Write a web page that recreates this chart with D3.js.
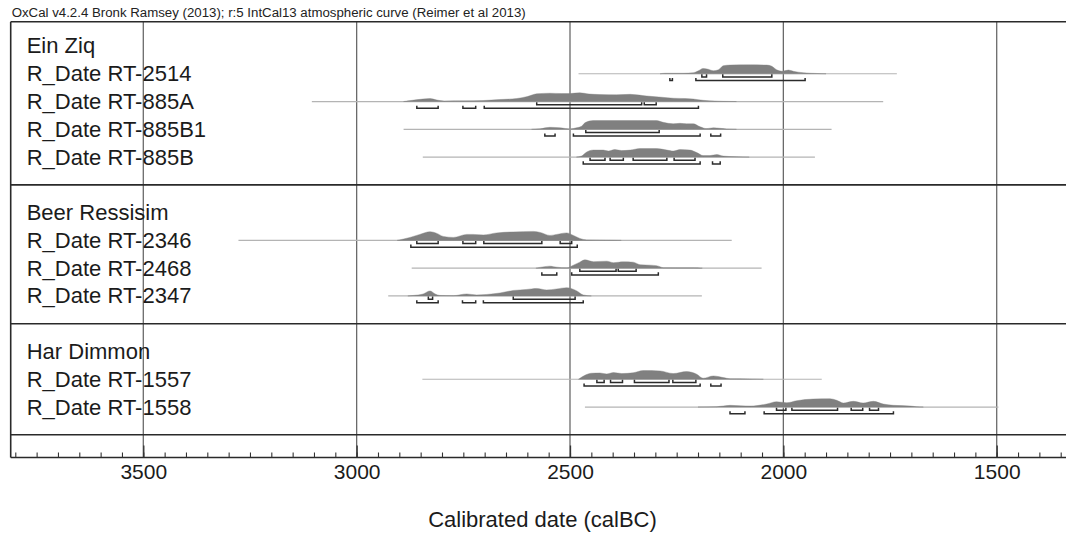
<!DOCTYPE html>
<html>
<head>
<meta charset="utf-8">
<script src="https://cdn.jsdelivr.net/npm/d3@7/dist/d3.min.js"></script>
<style>
  html, body { margin: 0; padding: 0; background: #fff; }
  svg { display: block; font-family: "Liberation Sans", Arial, Helvetica, sans-serif; }
</style>
</head>
<body>
<svg id="chart" width="1066" height="533"></svg>
<script>
// ---------------- DATA ----------------
const headerText = "OxCal v4.2.4 Bronk Ramsey (2013); r:5 IntCal13 atmospheric curve (Reimer et al 2013)";
const axisTitle = "Calibrated date (calBC)";
const majorTicks = [3500, 3000, 2500, 2000, 1500];
const minorStep = 50;

// group headers and row labels
const groupNames = ["Ein Ziq", "Beer Ressisim", "Har Dimmon"];
const dateNames = [
  ["RT-2514", "RT-885A", "RT-885B1", "RT-885B"],
  ["RT-2346", "RT-2468", "RT-2347"],
  ["RT-1557", "RT-1558"]
];

// extent of each calibrated distribution (thin line), calBC
const rt2514_extent = [2480, 1734];
const rt885A_extent = [3105, 1766];
const rt885B1_extent = [2890, 1887];
const rt885B_extent = [2845, 1926];
const rt2346_extent = [3277, 2121];
const rt2468_extent = [2871, 2051];
const rt2347_extent = [2926, 2191];
const rt1557_extent = [2846, 1910];
const rt1558_extent = [2465, 1496];

// relative probability [year calBC, prob]
const rt2514_prob = [[2289,0],[2277,0.5],[2234,0.5],[2211,1],[2199,3],[2188,5.3],[2176,4.5],[2164,3],[2152,4],[2141,8],[2125,8.7],[2078,8.9],[2039,8.7],[2027,7.5],[2016,4],[2003,2.5],[1988,3.7],[1977,2.5],[1953,1],[1922,0.3],[1900,0]];
const rt885A_prob = [[2890,0],[2870,1.2],[2845,2.5],[2828,3],[2812,1.5],[2795,0.6],[2750,0.7],[2704,1],[2665,2],[2625,3],[2600,5],[2578,7.7],[2547,8.3],[2520,8],[2500,8],[2477,8.7],[2455,7.5],[2430,7],[2391,6.7],[2359,7.2],[2330,6],[2312,5.2],[2285,4.3],[2258,3.3],[2230,3],[2211,2.5],[2188,1.2],[2160,0.5],[2141,0.2],[2110,0]];
const rt885B1_prob = [[2590,0],[2570,0.5],[2547,2],[2523,1.5],[2500,0.4],[2485,1.5],[2473,3],[2465,6.5],[2446,8.7],[2430,8.8],[2350,8.8],[2297,8.7],[2282,7],[2258,5.5],[2242,6],[2227,5.5],[2211,5.5],[2195,2.5],[2180,0.7],[2164,1.5],[2148,1],[2133,0.3],[2110,0]];
const rt885B_prob = [[2485,0],[2473,1],[2461,5],[2445,7],[2422,7],[2410,6],[2395,7.5],[2379,6.5],[2359,7],[2336,8.5],[2297,8.5],[2273,7],[2258,6],[2242,7.5],[2219,7],[2203,4.5],[2188,1.5],[2172,1.5],[2156,2.5],[2141,1],[2109,0.3],[2080,0]];
const rt2346_prob = [[2905,0],[2875,3],[2852,6],[2828,8.7],[2812,7],[2797,4],[2773,3],[2742,6],[2727,6],[2703,5.5],[2672,7.5],[2633,8.5],[2586,9],[2570,8],[2547,5],[2531,6],[2508,7.5],[2492,5],[2477,2],[2461,0.5],[2420,0.2],[2380,0]];
const rt2468_prob = [[2580,0],[2560,1.5],[2547,2],[2531,1],[2508,0.3],[2492,3],[2477,6],[2465,8.3],[2445,6.5],[2414,7],[2398,5.5],[2375,6.3],[2352,6],[2336,3.5],[2312,3],[2297,2.5],[2281,0.5],[2250,0.3],[2211,0.3],[2190,0]];
const rt2347_prob = [[2880,0],[2867,0.5],[2844,2],[2828,5],[2816,2],[2805,0.5],[2773,0.3],[2742,2],[2719,1],[2695,1.5],[2664,3],[2633,5.5],[2617,6],[2602,6.5],[2578,7.5],[2555,6],[2531,7],[2508,8.3],[2484,5],[2469,1],[2450,0]];
const rt1557_prob = [[2480,0],[2465,4],[2450,6],[2430,6.3],[2414,5.3],[2398,6.7],[2379,5.7],[2352,6.5],[2328,8.7],[2289,8.3],[2258,5.7],[2227,7.7],[2203,5],[2188,1],[2164,3.3],[2141,1.7],[2125,0.5],[2078,0.3],[2047,0]];
const rt1558_prob = [[2200,0],[2156,0.3],[2125,1.7],[2100,1.2],[2078,1],[2039,3],[2016,5.3],[1992,4.3],[1969,6.3],[1930,8],[1891,8.3],[1875,6.7],[1859,4],[1836,5.7],[1813,4],[1789,5.7],[1766,3],[1742,1.7],[1703,1],[1688,0.3],[1672,0]];

// 68.2% ranges
const rt2514_r68 = [[2191,2180],[2142,2027]];
const rt885A_r68 = [[2578,2332],[2326,2298]];
const rt885B1_r68 = [[2463,2291]];
const rt885B_r68 = [[2453,2418],[2406,2375],[2352,2273],[2256,2207]];
const rt2346_r68 = [[2859,2809],[2751,2721],[2702,2566],[2523,2496]];
const rt2468_r68 = [[2477,2392],[2387,2345]];
const rt2347_r68 = [[2832,2822],[2633,2488]];
const rt1557_r68 = [[2437,2420],[2405,2377],[2349,2268],[2259,2205]];
const rt1558_r68 = [[2016,1994],[1980,1873],[1841,1814],[1798,1777]];

// 95.4% ranges
const rt2514_r95 = [[2266,2260],[2205,1949]];
const rt885A_r95 = [[2859,2809],[2751,2721],[2701,2199]];
const rt885B1_r95 = [[2559,2535],[2492,2195],[2170,2147]];
const rt885B_r95 = [[2469,2195],[2166,2148]];
const rt2346_r95 = [[2873,2483]];
const rt2468_r95 = [[2566,2531],[2496,2293]];
const rt2347_r95 = [[2859,2809],[2752,2721],[2703,2469]];
const rt1557_r95 = [[2467,2195],[2170,2146]];
const rt1558_r95 = [[2125,2090],[2045,1742]];

// ---------------- TABLE ----------------
const dateTable = {
  "RT-2514": {extent: rt2514_extent, prob: rt2514_prob, r68: rt2514_r68, r95: rt2514_r95},
  "RT-885A": {extent: rt885A_extent, prob: rt885A_prob, r68: rt885A_r68, r95: rt885A_r95},
  "RT-885B1": {extent: rt885B1_extent, prob: rt885B1_prob, r68: rt885B1_r68, r95: rt885B1_r95},
  "RT-885B": {extent: rt885B_extent, prob: rt885B_prob, r68: rt885B_r68, r95: rt885B_r95},
  "RT-2346": {extent: rt2346_extent, prob: rt2346_prob, r68: rt2346_r68, r95: rt2346_r95},
  "RT-2468": {extent: rt2468_extent, prob: rt2468_prob, r68: rt2468_r68, r95: rt2468_r95},
  "RT-2347": {extent: rt2347_extent, prob: rt2347_prob, r68: rt2347_r68, r95: rt2347_r95},
  "RT-1557": {extent: rt1557_extent, prob: rt1557_prob, r68: rt1557_r68, r95: rt1557_r95},
  "RT-1558": {extent: rt1558_extent, prob: rt1558_prob, r68: rt1558_r68, r95: rt1558_r95}
};

// build slot list
const slots = [];
const separators = [];
groupNames.forEach((g, gi) => {
  slots.push({type: "header", label: g, idx: slots.length + separators.length});
  dateNames[gi].forEach(n => {
    slots.push({type: "date", label: "R_Date " + n, key: n, idx: slots.length + separators.length});
  });
  separators.push(slots.length + separators.length);
});

// ---------------- LAYOUT ----------------
const W = 1066, H = 533;
const frameLeft = 10.7, frameRight = W;
const x = d3.scaleLinear().domain([3500, 1500]).range([143.3, 996.7]);
const slotY = d3.scaleLinear().domain([0, 14]).range([46, 434.8]);
const frameTop = slotY(-0.875);
const axisY = 457.5;
const probH = d3.scaleLinear().domain([0, 9]).range([0, 9]);

const svg = d3.select("#chart");
const textColor = "#1b1b1b";
const labelFont = 22;
const tickFont = 21;

svg.append("defs").append("clipPath").attr("id", "plotclip")
  .append("rect").attr("x", frameLeft).attr("y", frameTop).attr("width", frameRight - frameLeft).attr("height", axisY - frameTop);

// header text
const hdr = svg.append("text")
  .attr("x", 11.7).attr("y", 17.3)
  .attr("fill", "#222")
  .style("font-size", "12.5px")
  .text(headerText);
const hw = hdr.node().getComputedTextLength();
hdr.style("font-size", (12.5 * 514 / hw).toFixed(2) + "px");

// gridlines
svg.append("g").selectAll("line").data(majorTicks).join("line")
  .attr("x1", d => x(d)).attr("x2", d => x(d))
  .attr("y1", frameTop).attr("y2", axisY)
  .attr("stroke", "#6a6a6a").attr("stroke-width", 1.3);

// frame lines
const hLines = [frameTop].concat(separators.map(s => slotY(s)));
svg.append("g").selectAll("line").data(hLines).join("line")
  .attr("x1", frameLeft).attr("x2", frameRight)
  .attr("y1", d => d).attr("y2", d => d)
  .attr("stroke", "#2a2a2a").attr("stroke-width", 1.6);
svg.append("line").attr("x1", frameLeft).attr("x2", frameLeft)
  .attr("y1", frameTop).attr("y2", axisY)
  .attr("stroke", "#2a2a2a").attr("stroke-width", 1.6);
svg.append("line").attr("x1", frameLeft).attr("x2", frameRight)
  .attr("y1", axisY).attr("y2", axisY)
  .attr("stroke", "#2a2a2a").attr("stroke-width", 1.6);

// axis ticks
const minorTicks = d3.range(3800, 1300, -minorStep);
const minorAxis = d3.axisBottom(x).tickValues(minorTicks).tickSize(-5).tickFormat("");
const gMinor = svg.append("g").attr("transform", `translate(0,${axisY})`).call(minorAxis);
gMinor.select(".domain").remove();
gMinor.selectAll("line").attr("stroke", "#333").attr("stroke-width", 1.1);

const majorAxis = d3.axisBottom(x).tickValues(majorTicks).tickSize(-12).tickPadding(6.5).tickFormat(d3.format("d"));
const gMajor = svg.append("g").attr("transform", `translate(0,${axisY})`).call(majorAxis);
gMajor.select(".domain").remove();
gMajor.selectAll("line").attr("stroke", "#333").attr("stroke-width", 1.3);
gMajor.selectAll("text").attr("fill", textColor)
  .style("font-size", tickFont + "px")
  .style("font-family", '"Liberation Sans", Arial, Helvetica, sans-serif');

// axis title
svg.append("text").attr("x", 542.5).attr("y", 527.3)
  .attr("text-anchor", "middle").attr("fill", textColor)
  .style("font-size", labelFont + "px")
  .text(axisTitle);

// row labels
svg.append("g").selectAll("text").data(slots).join("text")
  .attr("x", 26.7)
  .attr("y", d => slotY(d.idx) + 0.34 * labelFont)
  .attr("fill", textColor)
  .style("font-size", labelFont + "px")
  .text(d => d.label);

// distributions
const plot = svg.append("g").attr("clip-path", "url(#plotclip)");
const area = d3.area()
  .x(d => x(d[0]))
  .y0(0)
  .y1(d => -probH(d[1]))
  .curve(d3.curveMonotoneX);

function bracketPath(r, yy) {
  const a = x(r[0]), b = x(r[1]);
  return `M${a},${yy - 2.6}V${yy}H${b}V${yy - 2.6}`;
}

slots.filter(s => s.type === "date").forEach(s => {
  const d = dateTable[s.key];
  const base = slotY(s.idx);
  const g = plot.append("g").attr("transform", `translate(0,${base})`);
  g.append("line")
    .attr("x1", x(d.extent[0])).attr("x2", x(d.extent[1]))
    .attr("y1", 0).attr("y2", 0)
    .attr("stroke", "#b4b4b4").attr("stroke-width", 1.2);
  const sorted = d.prob.slice().sort((p, q) => q[0] - p[0]);
  g.append("path").attr("d", area(sorted))
    .attr("fill", "#808080").attr("stroke", "#808080").attr("stroke-width", 0.4);
  g.selectAll("path.r68").data(d.r68).join("path").attr("class", "r68")
    .attr("d", r => bracketPath(r, 3.2))
    .attr("fill", "none").attr("stroke", "#2b2b2b").attr("stroke-width", 1.5);
  g.selectAll("path.r95").data(d.r95).join("path").attr("class", "r95")
    .attr("d", r => bracketPath(r, 6.8))
    .attr("fill", "none").attr("stroke", "#2b2b2b").attr("stroke-width", 1.5);
});
</script>
</body>
</html>
